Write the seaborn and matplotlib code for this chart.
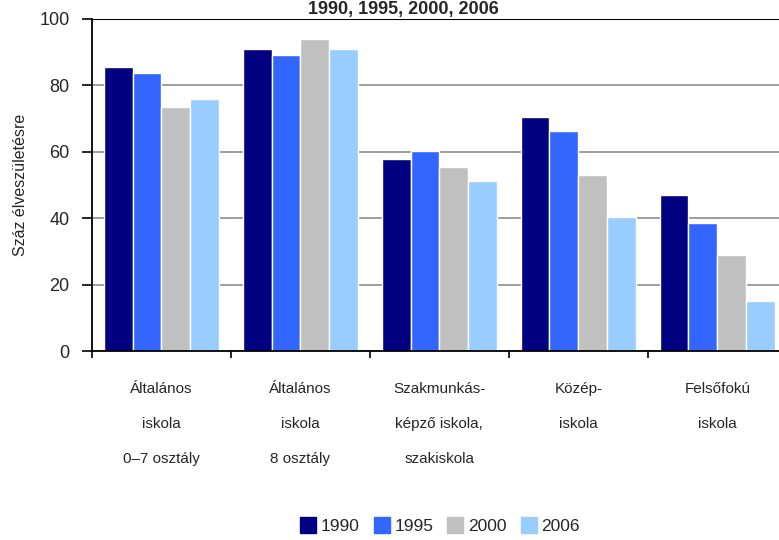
import matplotlib
matplotlib.use("Agg")
import matplotlib.pyplot as plt
import matplotlib.ticker as ticker
import pandas as pd
import seaborn as sns

CATEGORIES = [
    "Általános\niskola\n0–7 osztály",
    "Általános\niskola\n8 osztály",
    "Szakmunkás-\nképző iskola,\nszakiskola",
    "Közép-\niskola",
    "Felsőfokú\niskola",
]
YEARS = ["1990", "1995", "2000", "2006"]
V1990 = [85.5, 91.0, 57.8, 70.5, 47.0]
V1995 = [83.7, 89.2, 60.2, 66.3, 38.6]
V2000 = [73.5, 94.0, 55.4, 53.0, 28.9]
V2006 = [75.9, 91.0, 51.2, 40.4, 15.1]
COLORS = ["#000080", "#3366FF", "#C0C0C0", "#99CCFF"]

rows = []
for year, vals in zip(YEARS, [V1990, V1995, V2000, V2006]):
    for cat, v in zip(CATEGORIES, vals):
        rows.append({"cat": cat, "year": year, "val": v})
df = pd.DataFrame(rows)

sns.set_style("white")
plt.rcParams["font.family"] = ["Liberation Sans", "DejaVu Sans"]

fig = plt.figure(figsize=(7.79, 5.40), dpi=100)
ax = fig.add_axes([0.118, 0.35, 0.892, 0.615])

sns.barplot(data=df, x="cat", y="val", hue="year", palette=COLORS,
            width=0.83, gap=0, saturation=1, ax=ax, legend=True)

ax.set_ylim(0, 100)
ax.set_xlim(-0.5, len(CATEGORIES) - 0.5)
ax.yaxis.set_major_locator(ticker.MultipleLocator(20))
ax.yaxis.grid(True, color="#8c8c8c", linewidth=1.2)
ax.set_axisbelow(True)
ax.axhline(100, color="black", linewidth=1.5, zorder=5)

for s in ["top", "right"]:
    ax.spines[s].set_visible(False)
for s in ["left", "bottom"]:
    ax.spines[s].set_color("black")
    ax.spines[s].set_linewidth(1.3)

ax.tick_params(axis="y", which="major", direction="out", length=7, width=1.2,
               color="black", labelsize=13, pad=9, left=True)
ax.set_xticks(range(len(CATEGORIES)))
ax.set_xticklabels(CATEGORIES, fontsize=11, linespacing=2.95, va="top")
ax.tick_params(axis="x", which="major", length=0, pad=22)
ax.xaxis.set_minor_locator(ticker.FixedLocator([i - 0.5 for i in range(len(CATEGORIES) + 1)]))
ax.tick_params(axis="x", which="minor", direction="out", length=5, width=1.2,
               color="black", bottom=True)

ax.set_xlabel("")
ax.set_ylabel("Száz élveszületésre", fontsize=11.5, labelpad=8)

ax.legend_.remove()
handles = [plt.Line2D([], [], marker="s", linestyle="", markersize=11,
                      markerfacecolor=c, markeredgecolor=c) for c in COLORS]
fig.legend(handles, YEARS, loc="center", bbox_to_anchor=(0.565, 0.025), ncol=4,
           frameon=False, fontsize=12.5, handletextpad=0.3, columnspacing=0.8,
           handlelength=0.9)

fig.text(0.518, 0.998, "1990, 1995, 2000, 2006", ha="center", va="top",
         fontsize=13, fontweight="bold")

fig.savefig("out.png", dpi=100)
